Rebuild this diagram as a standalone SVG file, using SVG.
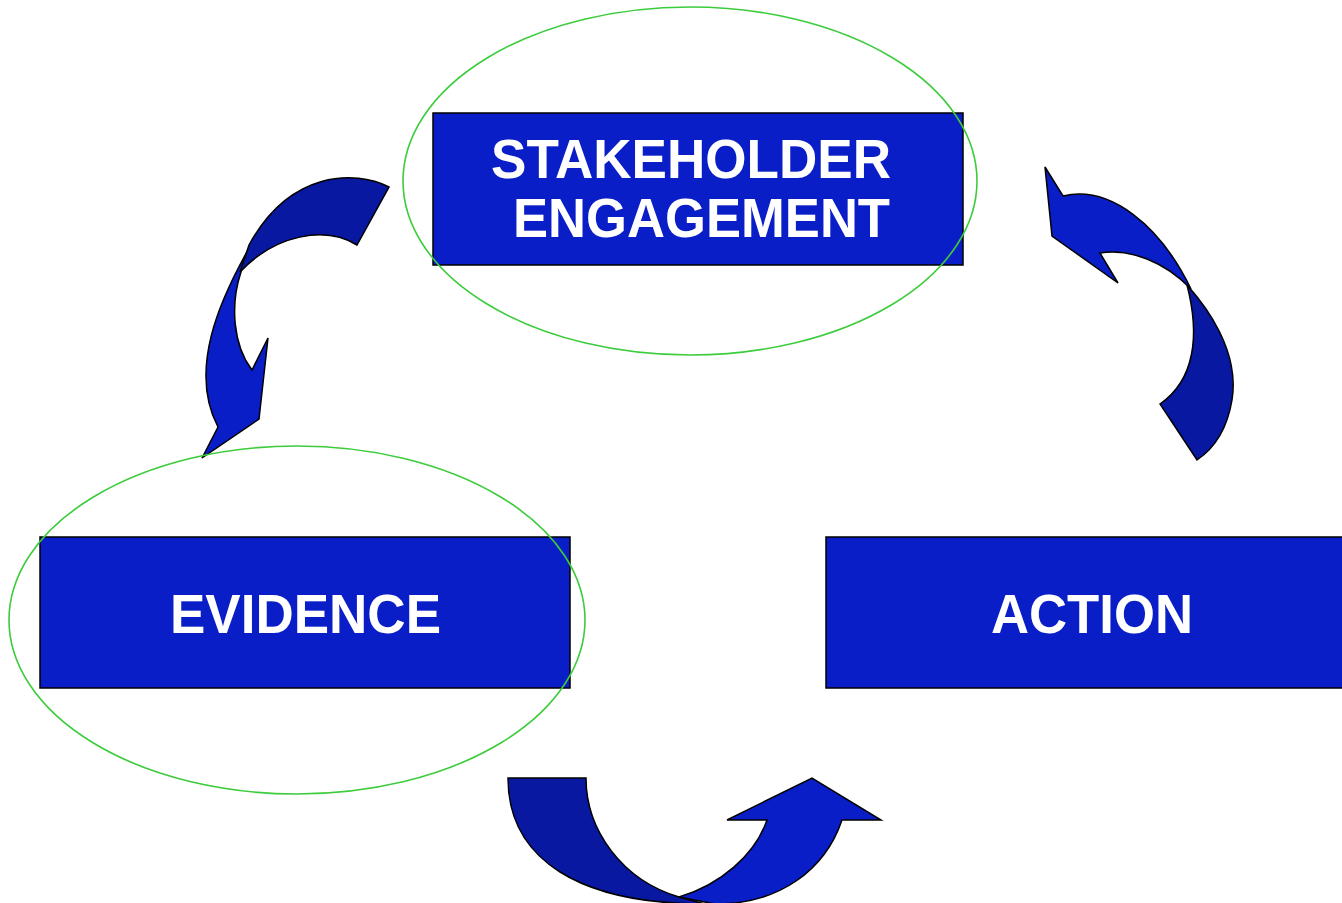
<svg xmlns="http://www.w3.org/2000/svg" width="1342" height="903" viewBox="0 0 1342 903">
<style>
.box{fill:#0a1ec8;stroke:#000;stroke-width:1.5}
.lbl{fill:#fff;font-family:"Liberation Sans",Arial,sans-serif;font-weight:bold;font-size:55px}
.ring{fill:none;stroke:#3ccc3c;stroke-width:1.6}
.dk{fill:#0818a0;stroke:#000;stroke-width:1.5;stroke-linejoin:miter}
.lt{fill:#0a1ec8;stroke:#000;stroke-width:1.5;stroke-linejoin:miter}
</style>
<rect width="1342" height="903" fill="#fff"/>
<g id="connectors">
<g id="arrow-left">
<path class="lt" d="M248,250 C220,300 188,370 218,427 L202,458 L259,419 L268,338 L252,370 C233,345 230,305 241,272 Z"/>
<path class="dk" d="M389,187 C355,170 290,170 249,245 L240,272 C275,235 325,225 357,245 Z"/>
</g>
<g id="arrow-right">
<path class="dk" d="M1187,285 C1205,305 1240,350 1232,400 C1227,430 1215,448 1197,460 L1160,404 C1195,380 1200,335 1187,285 Z"/>
<path class="lt" d="M1045,167 L1063,196 C1110,185 1160,225 1191,289 C1165,262 1130,248 1100,253 L1118,283 L1052,236 Z"/>
</g>
<g id="arrow-bottom">
<path class="dk" d="M508,778 L586,778 C586,830 622,880 679,897 L705,904 C580,904 508,860 508,778 Z"/>
<path class="lt" d="M679,897 C720,885 755,855 767,820 L727,820 L812,778 L881,820 L842,820 C825,870 780,904 715,904 Z"/>
</g>
</g>
<g id="node-stakeholder">
<rect class="box" x="433" y="113" width="530" height="152"/>
<text class="lbl" x="491" y="178" textLength="400" lengthAdjust="spacingAndGlyphs">STAKEHOLDER</text>
<text class="lbl" x="513" y="237" textLength="377" lengthAdjust="spacingAndGlyphs">ENGAGEMENT</text>
</g>
<g id="node-evidence">
<rect class="box" x="40" y="537" width="530" height="151"/>
<text class="lbl" x="170" y="633" textLength="271" lengthAdjust="spacingAndGlyphs">EVIDENCE</text>
</g>
<g id="node-action">
<rect class="box" x="826" y="537" width="520" height="151"/>
<text class="lbl" x="991" y="633" textLength="202" lengthAdjust="spacingAndGlyphs">ACTION</text>
</g>
<g id="rings">
<ellipse class="ring" cx="690" cy="181" rx="287" ry="174"/>
<ellipse class="ring" cx="297" cy="620" rx="288" ry="174"/>
</g>
</svg>
